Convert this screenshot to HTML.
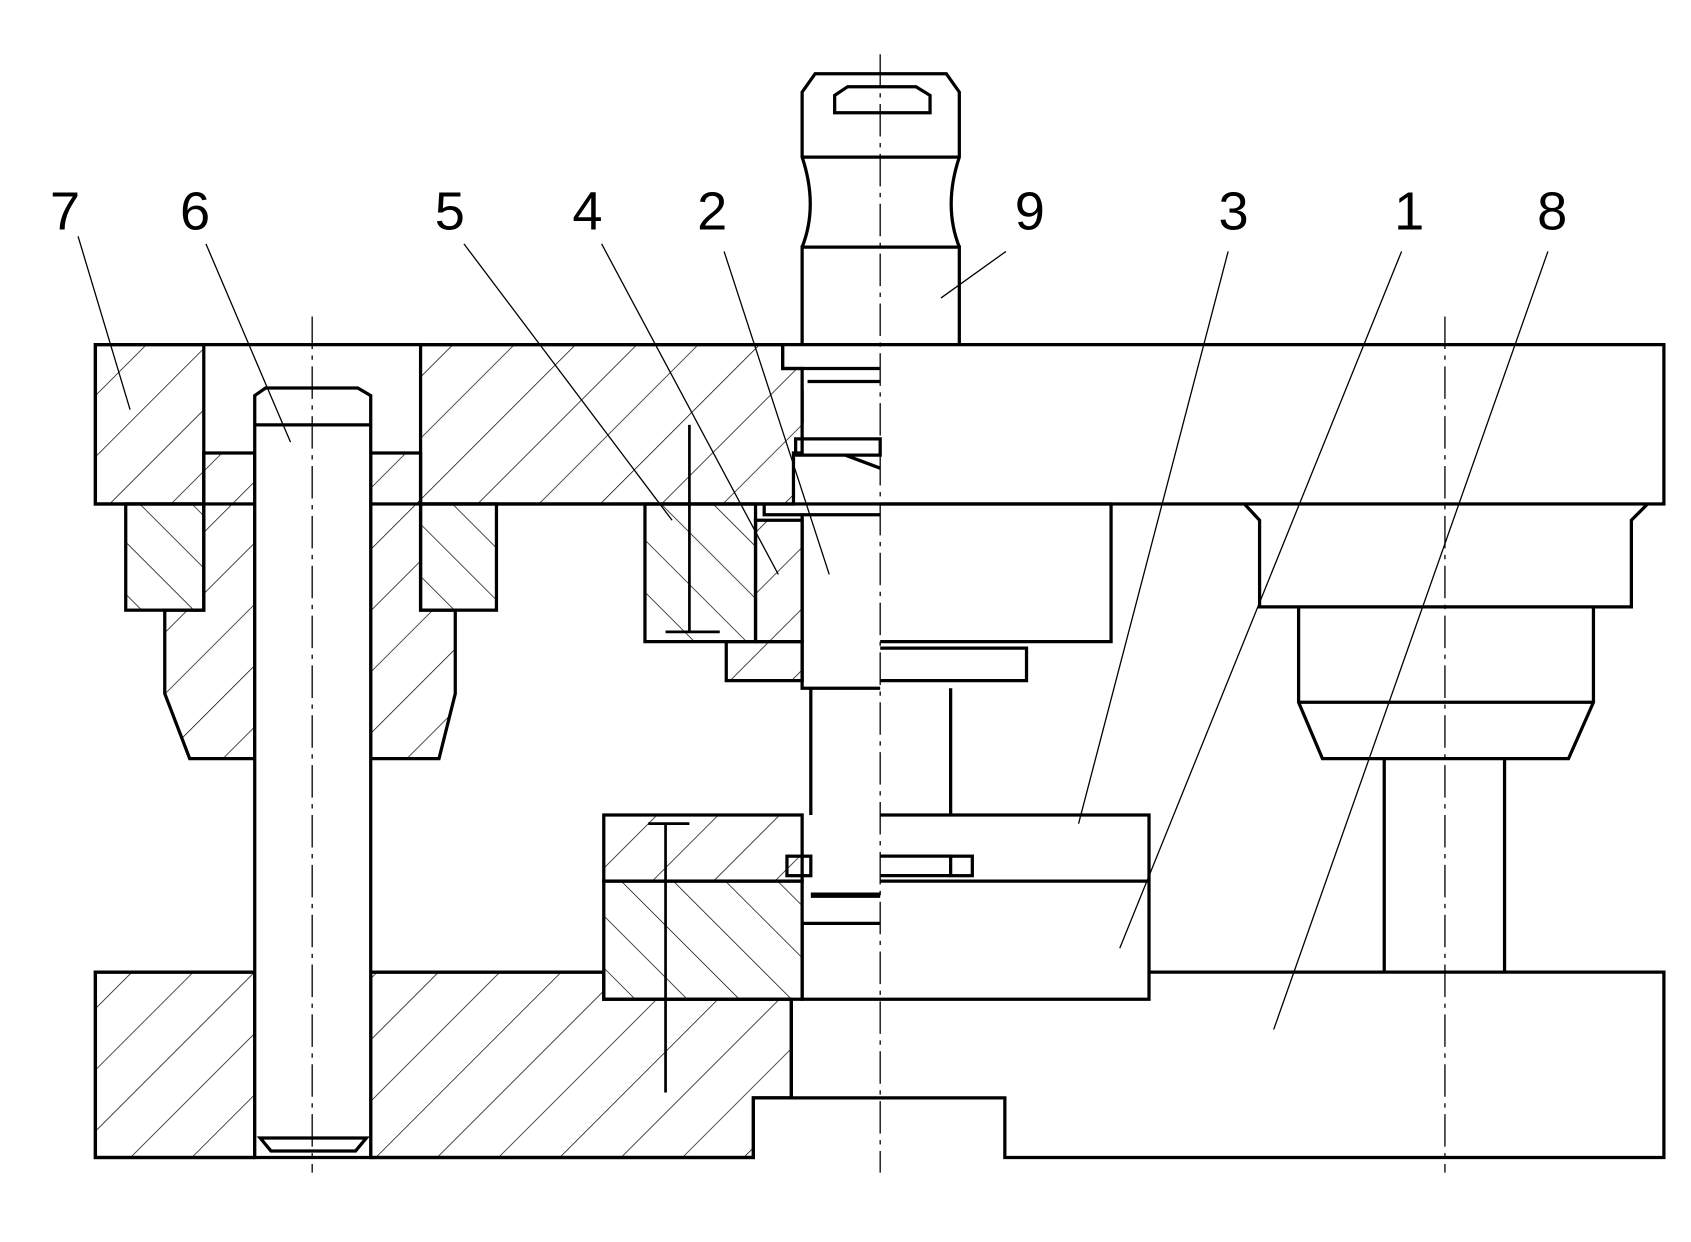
<!DOCTYPE html>
<html><head><meta charset="utf-8"><style>html,body{margin:0;padding:0;background:#fff}svg{display:block}</style></head><body>
<svg width="1691" height="1242" viewBox="0 0 1560 1146" preserveAspectRatio="none" xmlns="http://www.w3.org/2000/svg">
<defs>
<pattern id="hf" patternUnits="userSpaceOnUse" width="40" height="40" patternTransform="rotate(45)"><line x1="0" y1="0" x2="0" y2="40" stroke="#000" stroke-width="1.3"/></pattern>
<pattern id="hb" patternUnits="userSpaceOnUse" width="34" height="34" patternTransform="rotate(-45)"><line x1="0" y1="0" x2="0" y2="34" stroke="#000" stroke-width="1.3"/></pattern>
</defs>
<g stroke="#000" stroke-width="3" fill="none" stroke-linejoin="miter">
<path d="M88 318 H188 V465 H88 Z" fill="url(#hf)"/>
<path d="M388 318 H722 V340 H740 V418 H732 V465 H388 Z" fill="url(#hf)"/>
<rect x="88" y="318" width="1447" height="147"/>
<path d="M188 418 H235 V700 H175 L152 640 V563 H188 Z" fill="url(#hf)"/>
<path d="M342 418 H388 V563 H420 V640 L405 700 H342 Z" fill="url(#hf)"/>
<rect x="116" y="465" width="72" height="98" fill="url(#hb)"/>
<rect x="388" y="465" width="70" height="98" fill="url(#hb)"/>
<path d="M88 897 H235 V1068 H88 Z" fill="url(#hf)"/>
<path d="M342 897 H557 V922 H730 V1013 H695 V1068 H342 Z" fill="url(#hf)"/>
<path d="M235 1068 V365 L245 358 H330 L342 365 V1068 Z" fill="#fff"/>
<line x1="235" y1="392" x2="342" y2="392"/>
<path d="M240 1050 L250 1062 H328 L338 1050 Z"/>
<path d="M740 318 V228 H885 V318"/>
<path d="M740 228 Q755 190 740 145 V85 L752 68 H873 L885 85 V145 Q870 190 885 228"/>
<line x1="740" y1="145" x2="885" y2="145"/>
<path d="M770 104 V88 L782 80 H845 L858 88 V104 Z"/>
<path d="M722 318 V340 H812"/>
<path d="M745 352 H812 M740 360 V390 M734 405 H812 V420 H734 Z M780 420 L812 432"/>
<path d="M595 465 H697 V592 H595 Z" fill="url(#hb)"/>
<path d="M697 480 H740 V592 H697 Z" fill="url(#hf)"/>
<path d="M670 592 H740 V628 H670 Z" fill="url(#hf)"/>
<line x1="636" y1="392" x2="636" y2="582" stroke-width="2.5"/>
<line x1="614" y1="583" x2="664" y2="583" stroke-width="2.5"/>
<path d="M705 465 V475 H812 M740 475 V635 H812"/>
<path d="M812 465 H1025 V592 H812"/>
<path d="M812 598 H947 V628 H812"/>
<path d="M748 635 V752 M877 635 V752"/>
<rect x="557" y="752" width="183" height="61" fill="url(#hf)"/>
<rect x="557" y="813" width="183" height="109" fill="url(#hb)"/>
<path d="M812 752 H1060 V922 H740 V852 H812"/>
<line x1="812" y1="813" x2="1060" y2="813"/>
<rect x="726" y="790" width="22" height="18"/>
<rect x="877" y="790" width="20" height="18"/>
<line x1="812" y1="790" x2="877" y2="790"/><line x1="812" y1="808" x2="877" y2="808"/>
<line x1="748" y1="826" x2="812" y2="826" stroke-width="5"/>
<line x1="598" y1="760" x2="636" y2="760" stroke-width="2.5"/>
<line x1="614" y1="760" x2="614" y2="1008" stroke-width="2.5"/>
<path d="M1060 897 H1535 V1068 H927 V1013 H695 V1068 H342 M235 1068 H88 V897 H235 M342 897 H557"/>
<line x1="730" y1="922" x2="730" y2="1013"/>
<path d="M1148 465 L1162 480 V560 H1505 V480 L1520 465"/>
<path d="M1198 560 V648 L1220 700 H1447 L1470 648 V560"/>
<line x1="1198" y1="648" x2="1470" y2="648"/>
<path d="M1277 700 V897 M1388 700 V897"/>
</g>
<g stroke="#000" stroke-width="1.2" stroke-dasharray="30 6 4 6" fill="none">
<line x1="812" y1="50" x2="812" y2="1082"/>
<line x1="288" y1="292" x2="288" y2="1082"/>
<line x1="1333" y1="292" x2="1333" y2="1082"/>
</g>
<g stroke="#000" stroke-width="1.2" fill="none">
<line x1="72" y1="218" x2="120" y2="378"/>
<line x1="190" y1="225" x2="268" y2="408"/>
<line x1="428" y1="225" x2="620" y2="480"/>
<line x1="555" y1="225" x2="718" y2="530"/>
<line x1="668" y1="232" x2="765" y2="530"/>
<line x1="928" y1="232" x2="868" y2="275"/>
<line x1="1133" y1="232" x2="995" y2="760"/>
<line x1="1293" y1="232" x2="1033" y2="875"/>
<line x1="1428" y1="232" x2="1175" y2="950"/>
</g>
<g font-family="Liberation Sans, sans-serif" font-size="50" text-anchor="middle" fill="#000">
<text x="60" y="212">7</text><text x="180" y="212">6</text><text x="415" y="212">5</text>
<text x="542" y="212">4</text><text x="657" y="212">2</text><text x="950" y="212">9</text>
<text x="1138" y="212">3</text><text x="1300" y="212">1</text><text x="1432" y="212">8</text>
</g>
</svg>
</body></html>
